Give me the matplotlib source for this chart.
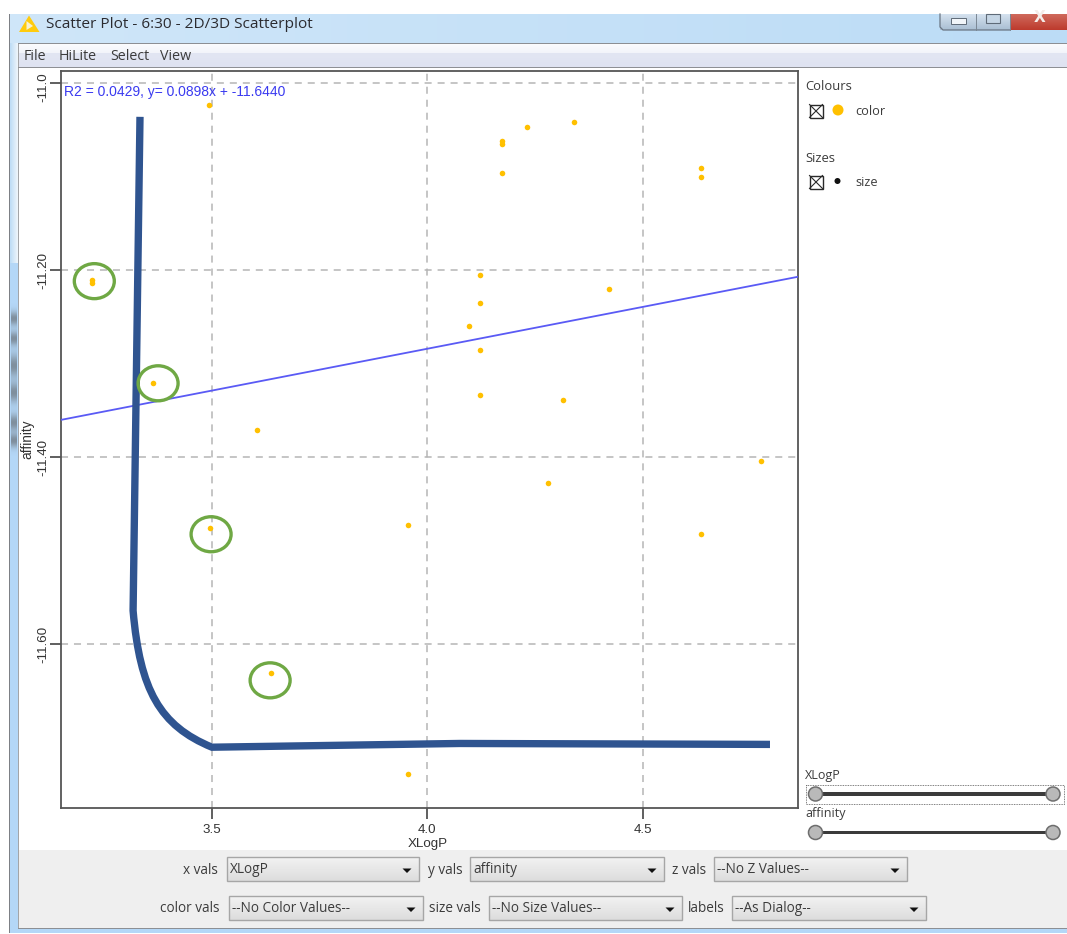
import numpy as np
import matplotlib
matplotlib.use("Agg")
import matplotlib.pyplot as plt
from matplotlib.colors import LinearSegmentedColormap
from matplotlib.patches import Rectangle, Ellipse, Polygon, PathPatch
from matplotlib.path import Path
from matplotlib.transforms import ScaledTranslation

# ---------- data ----------
xlogp = [3.493, 3.222, 3.222, 3.363, 3.604, 3.495, 3.637, 3.955, 3.955,
         4.173, 4.173, 4.173, 4.231, 4.340, 4.635, 4.635, 4.122, 4.122,
         4.122, 4.122, 4.421, 4.096, 4.314, 4.774, 4.280, 4.635]
affinity = [-11.0235, -11.2107, -11.2139, -11.3209, -11.3711, -11.4759, -11.631,
            -11.4727, -11.739, -11.062, -11.0652, -11.0963, -11.047, -11.0417,
            -11.0909, -11.1005, -11.2053, -11.2353, -11.2856, -11.3337,
            -11.2203, -11.2599, -11.339, -11.4043, -11.4278, -11.4824]
fit_x = [3.15, 4.86]
fit_y = [-11.360, -11.207]
x_ticks = [3.5, 4.0, 4.5]
y_ticks = [-11.0, -11.2, -11.4, -11.6]
y_tick_labels = ["-11.0", "-11.20", "-11.40", "-11.60"]
fit_label = "R2 = 0.0429, y= 0.0898x + -11.6440"

curve_x = [3.333, 3.317, 3.333, 3.379, 3.5, 4.075, 4.795]
curve_y = [-11.036, -11.564, -11.649, -11.687, -11.710, -11.706, -11.707]
circle_x = [3.227, 3.375, 3.498, 3.635]
circle_y = [-11.2117, -11.3209, -11.4823, -11.6385]

menu_items = ["File", "HiLite", "Select", "View"]
title_text = "Scatter Plot - 6:30 - 2D/3D Scatterplot"

W, H = 1067, 934
BLUE = "#2f5490"
GREEN = "#6fa844"
ORANGE = "#ffc000"
UI = "Open Sans"
TXT = "#3c3c3c"

fig = plt.figure(figsize=(W / 100, H / 100), dpi=100, facecolor="white")

# ---------- window chrome, in pixels ----------
bg = fig.add_axes([0, 0, 1, 1], zorder=0)
bg.set_xlim(0, W)
bg.set_ylim(H, 0)
bg.axis("off")


def grad(x0, x1, y0, y1, colors, horizontal=False, z=1):
    cm = LinearSegmentedColormap.from_list("g", colors)
    a = np.linspace(0, 1, 64)
    a = a[None, :] if horizontal else a[:, None]
    bg.imshow(a, cmap=cm, extent=(x0, x1, y1, y0), aspect="auto", zorder=z,
              interpolation="bilinear", origin="upper")
    bg.set_xlim(0, W)
    bg.set_ylim(H, 0)


def rect(x0, y0, x1, y1, fc="none", ec="none", lw=0.0, z=2, **kw):
    bg.add_patch(Rectangle((x0, y0), x1 - x0, y1 - y0, fc=fc, ec=ec, lw=lw, zorder=z, **kw))


def label(x, y, s, size=9.6, ha="left", color=TXT, z=6):
    bg.text(x, y, s, fontsize=size, ha=ha, va="center", color=color, family=UI, zorder=z)


# frame and title bar
grad(10, W, 14, 43, ["#cfe6f9", "#bcdcf6"], horizontal=True)
grad(10, 18, 43, 263, ["#bcdcf6", "#f0f6fb"], horizontal=True)
rect(10, 263, 18, 933, fc="#b4d7f7", z=1)
rect(18, 929, W, 933, fc="#b4d7f7", z=1)
rect(9, 14, 10.2, 933, fc="#7d8085", z=3)
rect(18, 43, 19.2, 928, fc="#a3a5a8", z=3)

# blurred specks on the left frame
yy = np.arange(300, 460)
centres = [(318, 5), (338, 5), (365, 8), (392, 7), (422, 6), (440, 5)]
alpha = np.zeros_like(yy, dtype=float)
for c, sd in centres:
    alpha += 0.55 * np.exp(-0.5 * ((yy - c) / sd) ** 2)
speck = np.zeros((len(yy), 1, 4))
speck[..., :3] = 0.33
speck[:, 0, 3] = np.clip(alpha, 0, 0.7)
bg.imshow(speck, extent=(11, 17, 460, 300), aspect="auto", zorder=2, interpolation="bilinear")
bg.set_xlim(0, W)
bg.set_ylim(H, 0)

rect(18, 43, W, 44.3, fc="#8c8f94", z=3)
grad(18, W, 44, 53, ["#fbfcfe", "#f2f4fa"])
grad(18, W, 53, 67, ["#e2e6f3", "#dfe3f1"])
rect(18, 67, W, 68.2, fc="#8e9094", z=3)
rect(19, 68, W, 850, fc="white", z=1)
rect(19, 850, W, 928, fc="#efefef", z=1)
rect(18, 927.5, W, 929, fc="#8c8f94", z=3)

# title icon and text
bg.add_patch(Polygon([(19, 32), (29, 15.5), (39.5, 32)], fc="#ffcb0d", ec="none", zorder=4))
bg.add_patch(Polygon([(26.5, 21), (33, 26), (26.5, 30)], fc="#f8f2d0", ec="none", zorder=5))
label(46, 24, title_text, size=11.05, color="#2b2b30")

# window buttons
grad(940, 975, 14, 30, ["#d5e2ef", "#a9bed2"])
grad(975, 1010, 14, 30, ["#d5e2ef", "#a9bed2"])
grad(1010, W, 14, 30, ["#cf6a5c", "#bd3a2d"])
bg.plot([940, 940, 943, 1010], [14, 27, 30, 30], color="#6a7684", lw=0.9, zorder=4)
bg.plot([975.5, 975.5], [14, 30], color="#7a8794", lw=0.7, zorder=4)
bg.plot([1010, 1010], [14, 30], color="#7a8794", lw=0.7, zorder=4)
rect(951, 18, 966, 24, fc="#f1f5f9", ec="#5f6b78", lw=0.7, z=5)
rect(986, 14, 1000, 23, fc="#c6d6e5", ec="#5f6b78", lw=0.8, z=5)
bg.text(1040, 17, "X", fontsize=11, ha="center", va="center", color="#f4ece8",
        family="DejaVu Sans", fontweight="bold", zorder=5)

# menu
for xm, item in zip([24, 59, 110, 160], menu_items):
    label(xm, 56.5, item, size=10.3)

# legend
label(805, 86, "Colours", size=9.4)
label(805, 158, "Sizes", size=9.4)
label(855, 111.5, "color", size=9.2)
label(855, 183, "size", size=9.2)
for yc in [111, 182]:
    rect(809.5, yc - 6.5, 822.5, yc + 6.5, fc="white", ec="#2a2a2a", lw=1.0, z=4)
    bg.plot([809.5, 822.5], [yc - 6.5, yc + 6.5], color="#2a2a2a", lw=0.8, zorder=5)
    bg.plot([809.5, 822.5], [yc + 6.5, yc - 6.5], color="#2a2a2a", lw=0.8, zorder=5)
bg.add_patch(Ellipse((838, 110), 11, 11, fc=ORANGE, ec="none", zorder=4))
bg.add_patch(Ellipse((837.5, 181), 6, 6, fc="#111111", ec="none", zorder=4))

# sliders
label(805, 775, "XLogP", size=9)
label(805, 814, "affinity", size=9)
rect(806, 785, 1064, 804, ec="#555555", lw=0.6, ls=(0, (1, 1)), z=3)
for yc in [794, 832.5]:
    rect(815, yc - 1.6, 1053, yc + 1.6, fc="#3b3b3b", z=3)
    for xc in [815.5, 1053]:
        bg.add_patch(Ellipse((xc, yc), 14, 14, fc="#b9b9b9", ec="#6e6e6e", lw=1.1, zorder=4))


# combo boxes
def combo(x0, x1, y0, y1, text):
    grad(x0, x1, y0, y1, ["#f3f3f3", "#dcdcdc"], z=2)
    rect(x0, y0, x1, y1, ec="#a6a6a6", lw=1.0, z=3)
    label(x0 + 3, (y0 + y1) / 2 + 0.5, text, size=9.8)
    xa = x1 - 12
    ya = (y0 + y1) / 2 + 1.5
    bg.add_patch(Polygon([(xa - 4.5, ya - 2), (xa + 4.5, ya - 2), (xa, ya + 2.5)],
                         fc="#111111", ec="none", zorder=5))


combo(227, 419, 857, 881, "XLogP")
combo(470, 664, 857, 881, "affinity")
combo(714, 907, 857, 881, "--No Z Values--")
combo(229, 423, 896, 920, "--No Color Values--")
combo(489, 682, 896, 920, "--No Size Values--")
combo(732, 926, 896, 920, "--As Dialog--")
for xr, yr, s in [(218, 870, "x vals"), (463, 870, "y vals"), (706, 870, "z vals"),
                  (220, 909, "color vals"), (481, 909, "size vals"), (725, 909, "labels")]:
    label(xr, yr, s, size=9.8, ha="right")

# ---------- plot ----------
L, R, T, B = 61, 798, 71, 808
ax = fig.add_axes([L / W, 1 - B / H, (R - L) / W, (B - T) / H], zorder=2, facecolor="white")
ax.set_xlim(3.1497, 4.86)
ax.set_ylim(-11.775, -10.987)
for s in ax.spines.values():
    s.set_color("#555555")
    s.set_linewidth(1.3)
ax.set_xticks(x_ticks)
ax.set_yticks(y_ticks)
ax.set_yticklabels(y_tick_labels)
ax.tick_params(axis="both", length=8, width=1.2, color="#444444", labelsize=9.6,
               labelcolor="#333333")
ax.tick_params(axis="x", pad=3.5)
ax.tick_params(axis="y", pad=0.5)
for t in ax.get_xticklabels() + ax.get_yticklabels():
    t.set_family("Liberation Sans")
for t in ax.get_yticklabels():
    t.set_rotation(90)
    t.set_va("center")
first = ax.get_yticklabels()[0]
first.set_transform(first.get_transform() + ScaledTranslation(0, -4 / 100, fig.dpi_scale_trans))
ax.grid(True, color="#b5b5b5", lw=1.1, ls=(0, (4.6, 3.9)))
ax.set_axisbelow(True)

ax.plot(fit_x, fit_y, color="#5a5af5", lw=1.3, zorder=3)
ax.scatter(xlogp, affinity, s=16, color=ORANGE, linewidths=0, zorder=4)
ax.text(0.0045, 0.9715, fit_label, transform=ax.transAxes, fontsize=10,
        color="#3a3af0", family="Liberation Sans", va="center", zorder=5)

# hand-drawn annotations
verts = list(zip(curve_x, curve_y))
codes = [Path.MOVETO, Path.LINETO, Path.CURVE4, Path.CURVE4, Path.CURVE4, Path.LINETO, Path.LINETO]
ax.add_patch(PathPatch(Path(verts, codes), fc="none", ec=BLUE, lw=5.3, zorder=6,
                       capstyle="butt", joinstyle="miter"))
for cx, cy in zip(circle_x, circle_y):
    ax.add_patch(Ellipse((cx, cy), 40 / 431, 35 / 935, fc="none", ec=GREEN, lw=2.4, zorder=6))

fig.text(428 / W, 1 - 844 / H, "XLogP", fontsize=9.6, color="#333333", ha="center", va="center",
         family="Liberation Sans", zorder=5)
fig.text(27 / W, 1 - 439 / H, "affinity", fontsize=9.8, color="#333333", ha="center", va="center",
         rotation=90, family="Liberation Sans", zorder=5)

fig.savefig("out.png", dpi=100, facecolor="white")
